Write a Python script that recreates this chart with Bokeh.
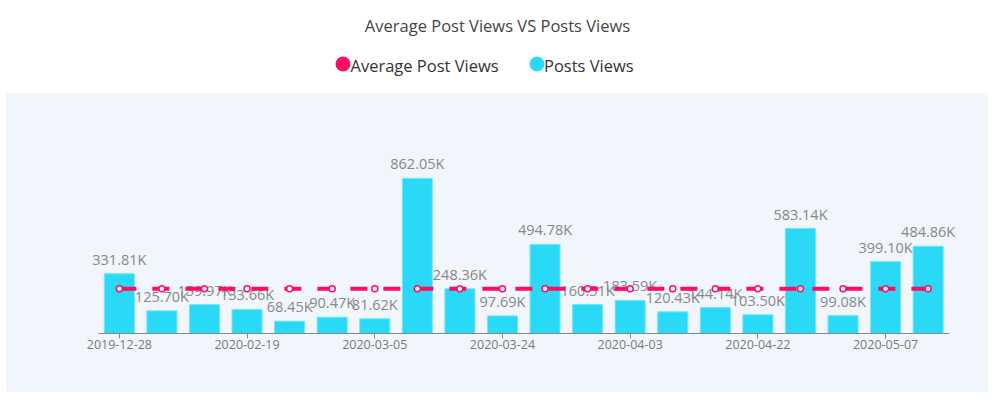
from bokeh.plotting import figure
from bokeh.layouts import column, row
from bokeh.models import ColumnDataSource, Range1d, FixedTicker, Spacer
from bokeh.core.properties import value
from bokeh.embed import file_html
from bokeh.resources import INLINE

# ---- data ----
post_views = [331810, 125700, 159970, 133660, 68450, 90470, 81620, 862050, 248360, 97690,
              494780, 160510, 183590, 120430, 144140, 103500, 583140, 99080, 399100, 484860]
avg_views = [248650, 248650, 248650, 248650, 248650, 248650, 248650, 248650, 248650, 248650,
             248650, 248650, 248650, 248650, 248650, 248650, 248650, 248650, 248650, 248650]
tick_index = [0, 3, 6, 9, 12, 15, 18]
tick_labels = ["2019-12-28", "2020-02-19", "2020-03-05", "2020-03-24",
               "2020-04-03", "2020-04-22", "2020-05-07"]
title_text = "Average Post Views VS Posts Views"
series_names = ["Average Post Views", "Posts Views"]

FONT = "Open Sans"
PINK = "#fe0b66"
CYAN = "#29d9f5"
PANEL = "#f1f5fc"

# ---- header (title + legend) ----
HW, HH = 993, 93
h = figure(width=HW, height=HH, output_backend="svg", toolbar_location=None,
           x_range=Range1d(0, HW), y_range=Range1d(HH, 0),
           min_border=0, min_border_left=0, min_border_right=0,
           min_border_top=0, min_border_bottom=0)
h.axis.visible = False
h.grid.visible = False
h.outline_line_color = None
h.background_fill_color = "white"
h.border_fill_color = "white"

h.text(x=[497], y=[25], text=[title_text], text_font=value(FONT),
       text_font_size="16.5px", text_color="#444444",
       text_align="center", text_baseline="middle")

h.scatter(x=[342.5, 536.5], y=[63.5, 63.5], size=15,
          fill_color=[PINK, CYAN], line_color=None)
h.text(x=[350, 543.5], y=[65, 65], text=series_names, text_font=value(FONT),
       text_font_size="16.5px", text_color="#333333",
       text_align="left", text_baseline="middle")

# ---- main chart ----
n = len(post_views)
xs = list(range(n))
labels = [f"{v / 1000:.2f}K" for v in post_views]
src = ColumnDataSource(dict(x=xs, views=post_views, avg=avg_views, label=labels))

p = figure(width=982, height=299, output_backend="svg", toolbar_location=None,
           x_range=Range1d(-1.5, n + 0.3), y_range=Range1d(0, 1000000),
           min_border_left=49, min_border_right=5,
           min_border_top=60, min_border_bottom=59)
p.background_fill_color = None
p.border_fill_color = None
p.styles = {"background-color": PANEL}
p.outline_line_color = None
p.grid.visible = False
p.yaxis.visible = False

p.vbar(x="x", top="views", width=0.705, source=src,
       fill_color=CYAN, line_color="#6fe6f8", line_width=1)

p.text(x="x", y="views", text="label", source=src, y_offset=-5,
       text_font=value(FONT), text_font_size="14.5px", text_color="#888888",
       text_align="center", text_baseline="bottom")

p.line(x="x", y="avg", source=src, line_color=PINK, line_width=4,
       line_dash="17 16")
p.scatter(x="x", y="avg", source=src, size=6, fill_color="white",
          line_color=PINK, line_width=1.5)

ax = p.xaxis[0]
ax.bounds = (-0.5, n - 0.5)
ax.ticker = FixedTicker(ticks=tick_index)
ax.major_label_overrides = {i: lab for i, lab in zip(tick_index, tick_labels)}
ax.minor_tick_line_color = None
ax.major_tick_in = 0
ax.major_tick_out = 5
ax.major_tick_line_color = "#888888"
ax.axis_line_color = "#888888"
ax.major_label_standoff = 1
ax.major_label_text_font = FONT
ax.major_label_text_font_size = "12.5px"
ax.major_label_text_color = "#7a7a7a"

layout = column(h, row(Spacer(width=6, height=299), p, spacing=0), spacing=0)

open("out.html", "w").write(file_html(layout, INLINE))
